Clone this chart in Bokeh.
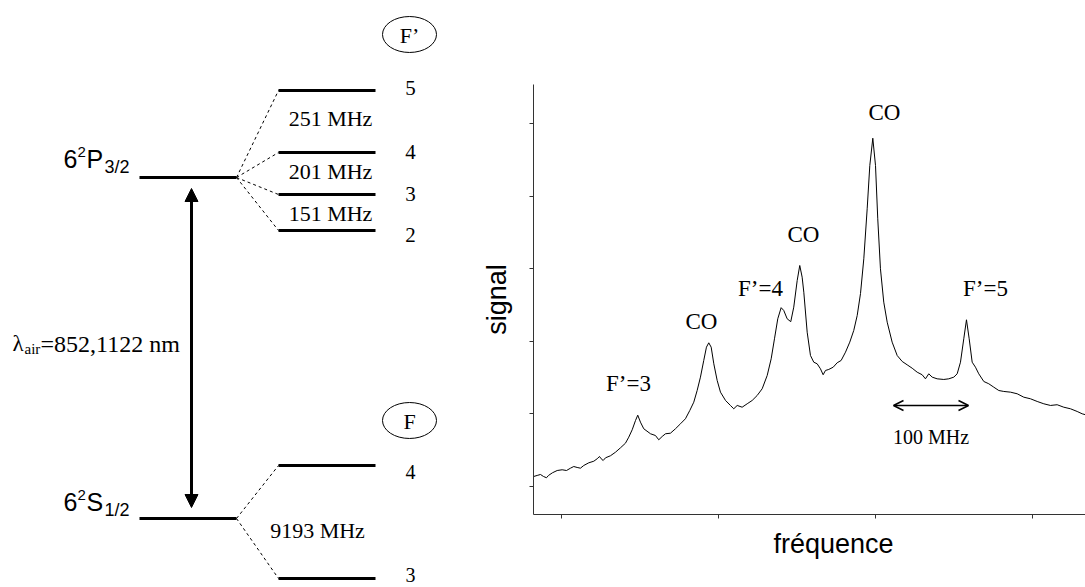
from bokeh.plotting import figure
from bokeh.layouts import row
from bokeh.models import Range1d, FixedTicker, Title, Arrow, NormalHead, OpenHead
from bokeh.core.properties import value
from bokeh.embed import file_html
from bokeh.resources import INLINE

# ---------------- data ----------------
excited_F = ["5", "4", "3", "2"]
excited_gaps = ["251 MHz", "201 MHz", "151 MHz"]
ground_F = ["4", "3"]
ground_gap = ["9193 MHz"]
wavelength_text = "=852,1122 nm"

freq_mhz = [-36.9, -32.4, -28.0, -24.0, -20.0, -17.3, -12.0, -5.7, 0.9, 6.7,
            12.0, 16.4, 20.9, 25.3, 29.7, 36.4, 43.1, 47.6, 50.7, 52.9,
            55.6, 58.7, 65.3, 72.0, 78.7, 85.3, 89.7, 94.3, 98.7, 101.7,
            105.3, 109.7, 118.7, 125.3, 129.7, 134.3, 138.7, 145.3, 152.0, 158.7,
            165.3, 171.1, 176.4, 180.9, 185.3, 189.7, 193.3, 196.4, 199.6, 203.1,
            207.6, 212.0, 218.7, 225.3, 229.7, 234.3, 240.9, 247.6, 254.3, 260.9,
            267.6, 274.3, 279.6, 284.0, 288.4, 292.9, 296.4, 300.9, 305.7, 309.7,
            314.3, 317.7, 320.9, 323.1, 327.6, 332.0, 336.4, 340.9, 345.3, 348.9,
            352.0, 356.4, 362.3, 367.6, 372.9, 378.7, 384.4, 389.7, 394.3, 398.7,
            403.1, 407.6, 411.1, 415.1, 418.7, 421.7, 425.3, 429.7, 434.3, 440.9,
            447.6, 454.3, 460.9, 467.6, 474.3, 480.9, 485.3, 489.7, 494.3, 500.9,
            509.7, 516.4, 523.1, 527.6, 532.0, 536.4, 540.0, 543.6, 547.6, 552.0,
            556.4, 563.1, 569.7, 576.4, 583.1, 589.7, 598.7, 607.6, 616.4, 625.3,
            634.3, 643.1, 652.0, 660.9, 669.7, 678.7, 687.6, 694.3, 698.7]
signal = [0.138, 0.152, 0.165, 0.138, 0.120, 0.152, 0.189, 0.220, 0.230, 0.220,
          0.252, 0.275, 0.262, 0.252, 0.289, 0.326, 0.348, 0.382, 0.413, 0.382,
          0.358, 0.395, 0.423, 0.472, 0.533, 0.596, 0.679, 0.781, 0.909, 0.982,
          0.886, 0.795, 0.726, 0.702, 0.643, 0.689, 0.726, 0.734, 0.795, 0.864,
          0.933, 1.047, 1.161, 1.322, 1.506, 1.736, 1.919, 1.979, 1.919, 1.690,
          1.460, 1.299, 1.185, 1.116, 1.070, 1.116, 1.092, 1.139, 1.185, 1.253,
          1.346, 1.529, 1.759, 2.034, 2.310, 2.463, 2.424, 2.310, 2.270, 2.470,
          2.837, 3.044, 2.883, 2.676, 2.125, 1.804, 1.712, 1.690, 1.621, 1.539,
          1.598, 1.612, 1.643, 1.704, 1.736, 1.850, 1.988, 2.149, 2.355, 2.658,
          3.136, 3.825, 4.421, 4.797, 4.421, 3.687, 2.999, 2.539, 2.263, 1.988,
          1.804, 1.722, 1.676, 1.629, 1.574, 1.539, 1.483, 1.552, 1.506, 1.483,
          1.474, 1.483, 1.506, 1.552, 1.712, 2.034, 2.296, 2.034, 1.712, 1.643,
          1.552, 1.446, 1.415, 1.368, 1.322, 1.309, 1.299, 1.277, 1.230, 1.208,
          1.171, 1.139, 1.116, 1.126, 1.092, 1.070, 1.033, 1.001, 0.988]

x_ticks = [0.0, 209.3, 418.7, 628.0]
y_ticks = [0, 1, 2, 3, 4, 5]

peak_names = ["F\u2019=3", "CO", "F\u2019=4", "CO", "CO", "F\u2019=5"]
scale_span_mhz = 100
scale_text = "100 MHz"

SERIF = value("Liberation Serif")
SANS = value("Liberation Sans")

# ---------------- left: level diagram ----------------
d = figure(width=470, height=587, x_range=Range1d(0, 470), y_range=Range1d(587, 0),
           output_backend="svg", toolbar_location=None, min_border=0,
           x_axis_location=None, y_axis_location=None)
d.frame_align = False
d.grid.visible = False
d.outline_line_color = None

fine_x0, fine_x1 = 139, 236
hyp_x0, hyp_x1 = 278, 375
p_y, s_y = 177, 518
exc_y = [90, 152, 194, 230]
gnd_y = [465, 578]

d.segment(x0=[fine_x0, fine_x0], y0=[p_y, s_y], x1=[fine_x1, fine_x1], y1=[p_y, s_y],
          line_width=3, line_color="black")
d.segment(x0=[hyp_x0] * 6, y0=exc_y + gnd_y, x1=[hyp_x1] * 6, y1=exc_y + gnd_y,
          line_width=3, line_color="black")
d.segment(x0=[fine_x1] * 4, y0=[p_y] * 4, x1=[hyp_x0] * 4, y1=exc_y,
          line_width=1, line_color="black", line_dash="3 3")
d.segment(x0=[fine_x1] * 2, y0=[s_y] * 2, x1=[hyp_x0] * 2, y1=gnd_y,
          line_width=1, line_color="black", line_dash="3 3")

d.text(x=[410] * 4, y=[87, 151, 193, 234], text=excited_F, text_align="center",
       text_baseline="middle", text_font=SERIF, text_font_size="21px", text_color="black")
d.text(x=[410] * 2, y=[471, 574], text=ground_F, text_align="center",
       text_baseline="middle", text_font=SERIF, text_font_size="20px", text_color="black")
d.text(x=[330] * 3, y=[118, 171, 213], text=excited_gaps, text_align="center",
       text_baseline="middle", text_font=SERIF, text_font_size="22px", text_color="black")
d.text(x=[317], y=[530], text=ground_gap, text_align="center",
       text_baseline="middle", text_font=SERIF, text_font_size="22px", text_color="black")

d.ellipse(x=[409, 409], y=[34, 420], width=54, height=36, fill_color=None,
          line_color="black", line_width=1)
d.text(x=[409, 409], y=[35, 421], text=["F\u2019", "F"], text_align="center",
       text_baseline="middle", text_font=SERIF, text_font_size="22px", text_color="black")

for base_y, orb, sub in [(158, "P", "3/2"), (501, "S", "1/2")]:
    d.text(x=[63], y=[base_y], text=["6"], text_baseline="alphabetic",
           text_font=SANS, text_font_size="25px", text_color="black")
    d.text(x=[77], y=[base_y - 7], text=["2"], text_baseline="alphabetic",
           text_font=SANS, text_font_size="15px", text_color="black")
    d.text(x=[86], y=[base_y], text=[orb], text_baseline="alphabetic",
           text_font=SANS, text_font_size="25px", text_color="black")
    d.text(x=[104], y=[base_y + 8], text=[sub], text_baseline="alphabetic",
           text_font=SANS, text_font_size="18px", text_color="black")

d.text(x=[12], y=[343], text=["\u03bb"], text_baseline="alphabetic",
       text_font=SERIF, text_font_size="23px", text_color="black")
d.text(x=[24], y=[348], text=["air"], text_baseline="alphabetic",
       text_font=SERIF, text_font_size="15px", text_color="black")
d.text(x=[40], y=[343], text=[wavelength_text], text_baseline="alphabetic",
       text_font=SERIF, text_font_size="24px", text_color="black")

d.add_layout(Arrow(x_start=191, y_start=188, x_end=191, y_end=507, line_width=3,
                   line_color="black",
                   start=NormalHead(size=13, fill_color="black", line_color="black"),
                   end=NormalHead(size=13, fill_color="black", line_color="black")))

# ---------------- right: spectrum ----------------
p = figure(width=615, height=587, x_range=Range1d(-37.3, 698.7), y_range=Range1d(-0.386, 5.537),
           output_backend="svg", toolbar_location=None,
           min_border_left=63, min_border_right=0, min_border_top=84, min_border_bottom=73)
p.frame_align = False
p.grid.visible = False
p.outline_line_color = None

p.line(freq_mhz, signal, line_color="black", line_width=1)

p.xaxis.ticker = FixedTicker(ticks=x_ticks)
p.yaxis.ticker = FixedTicker(ticks=y_ticks)
for ax in (p.xaxis, p.yaxis):
    ax.major_label_text_font_size = "0px"
    ax.major_label_text_color = None
    ax.minor_tick_line_color = None
    ax.major_tick_in = 0
    ax.major_tick_out = 4
    ax.axis_line_color = "#333333"
    ax.major_tick_line_color = "#333333"
p.yaxis.axis_label = "signal"
p.yaxis.axis_label_text_font = "Liberation Sans"
p.yaxis.axis_label_text_font_style = "normal"
p.yaxis.axis_label_text_font_size = "27px"
p.yaxis.axis_label_text_color = "black"
p.yaxis.axis_label_standoff = 18

p.add_layout(Title(text="fréquence", align="left", offset=240, standoff=17,
                   text_font="Liberation Sans", text_font_style="normal",
                   text_font_size="27px", text_color="black"), "below")

peak_lx = [89.3, 186.7, 265.3, 322.7, 430.7, 565.3]
peak_ly = [1.419, 2.273, 2.727, 3.471, 5.152, 2.727]
p.text(x=peak_lx, y=peak_ly, text=peak_names, text_align="center", text_baseline="middle",
       text_font=SERIF, text_font_size="23px", text_color="black")

arrow_x0 = 442.7
arrow_y = 1.116
p.add_layout(Arrow(x_start=arrow_x0, y_start=arrow_y, x_end=arrow_x0 + scale_span_mhz,
                   y_end=arrow_y, line_width=1.5, line_color="black",
                   start=OpenHead(size=10, line_width=1.5, line_color="black"),
                   end=OpenHead(size=10, line_width=1.5, line_color="black")))
p.text(x=[arrow_x0 + scale_span_mhz / 2], y=[0.675], text=[scale_text], text_align="center",
       text_baseline="middle", text_font=SERIF, text_font_size="20px", text_color="black")

layout = row(d, p)
open("out.html", "w").write(file_html(layout, INLINE))
